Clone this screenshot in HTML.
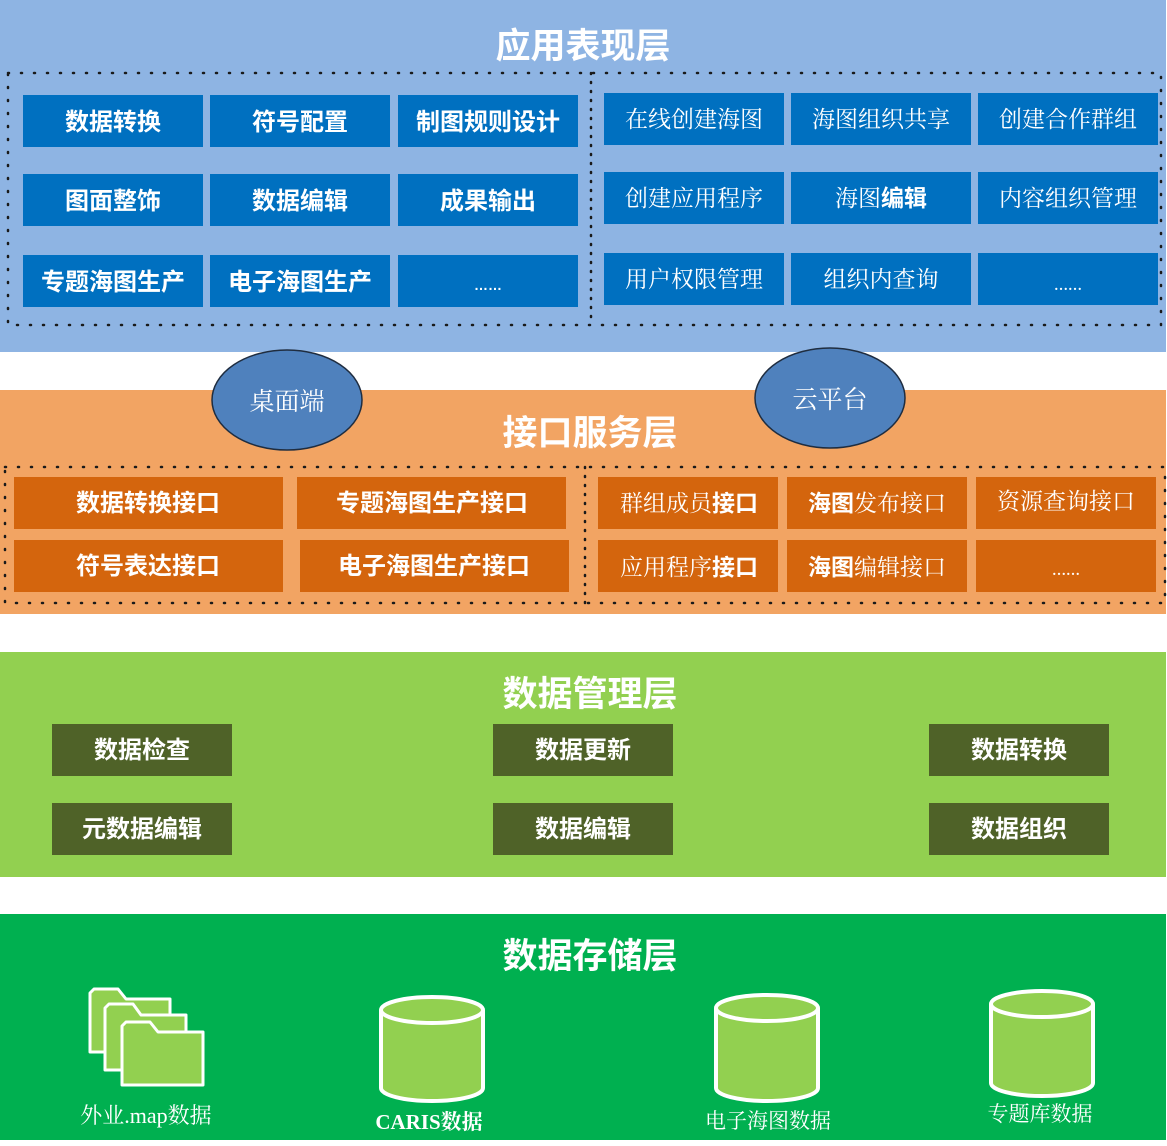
<!DOCTYPE html>
<html><head><meta charset="utf-8"><style>
html,body{margin:0;padding:0;background:#fff}
svg{display:block}
.b{font-family:"Liberation Sans","Noto Sans CJK SC",sans-serif;font-weight:bold;fill:#fff}
.s{font-family:"Liberation Serif","Noto Serif CJK SC",serif;fill:#fff}
</style></head><body>
<svg width="1167" height="1146" viewBox="0 0 1167 1146" xmlns="http://www.w3.org/2000/svg">
<rect x="0" y="0" width="1166" height="352" fill="#8EB4E3"/>
<text x="583" y="58" text-anchor="middle" class="b" font-size="35">应用表现层</text>
<rect x="8" y="73" width="1153" height="252" fill="none" stroke="#1a1a1a" stroke-width="2.5" stroke-dasharray="1 12" stroke-linecap="round"/>
<line x1="591" y1="73" x2="591" y2="325" stroke="#1a1a1a" stroke-width="2.5" stroke-dasharray="1 8" stroke-linecap="round"/>
<g fill="#0070C0">
<rect x="23" y="95" width="180" height="52"/><rect x="210" y="95" width="180" height="52"/><rect x="398" y="95" width="180" height="52"/>
<rect x="23" y="174" width="180" height="52"/><rect x="210" y="174" width="180" height="52"/><rect x="398" y="174" width="180" height="52"/>
<rect x="23" y="255" width="180" height="52"/><rect x="210" y="255" width="180" height="52"/><rect x="398" y="255" width="180" height="52"/>
<rect x="604" y="93" width="180" height="52"/><rect x="791" y="93" width="180" height="52"/><rect x="978" y="93" width="180" height="52"/>
<rect x="604" y="172" width="180" height="52"/><rect x="791" y="172" width="180" height="52"/><rect x="978" y="172" width="180" height="52"/>
<rect x="604" y="253" width="180" height="52"/><rect x="791" y="253" width="180" height="52"/><rect x="978" y="253" width="180" height="52"/>
</g>
<g class="b" font-size="24" text-anchor="middle">
<text x="113" y="130">数据转换</text><text x="300" y="130">符号配置</text><text x="488" y="130">制图规则设计</text>
<text x="113" y="209">图面整饰</text><text x="300" y="209">数据编辑</text><text x="488" y="209">成果输出</text>
<text x="113" y="290">专题海图生产</text><text x="300" y="290">电子海图生产</text><text x="488" y="290" font-size="14">……</text>
</g>
<g class="s" font-size="23" text-anchor="middle">
<text x="694" y="127">在线创建海图</text><text x="881" y="127">海图组织共享</text><text x="1068" y="127">创建合作群组</text>
<text x="694" y="206">创建应用程序</text><text x="881" y="206">海图<tspan class="b">编辑</tspan></text><text x="1068" y="206">内容组织管理</text>
<text x="694" y="287">用户权限管理</text><text x="881" y="287">组织内查询</text><text x="1068" y="290" font-size="14" font-weight="bold">……</text>
</g>
<rect x="0" y="390" width="1166" height="224" fill="#F2A463"/>
<text x="590" y="445" text-anchor="middle" class="b" font-size="35">接口服务层</text>
<rect x="5" y="467" width="1160" height="136" fill="none" stroke="#1a1a1a" stroke-width="2.5" stroke-dasharray="1 12" stroke-linecap="round"/>
<line x1="585" y1="467" x2="585" y2="603" stroke="#1a1a1a" stroke-width="2.5" stroke-dasharray="1 8" stroke-linecap="round"/>
<g fill="#D4650D">
<rect x="14" y="477" width="269" height="52"/><rect x="297" y="477" width="269" height="52"/>
<rect x="14" y="540" width="269" height="52"/><rect x="300" y="540" width="269" height="52"/>
<rect x="598" y="477" width="180" height="52"/><rect x="787" y="477" width="180" height="52"/><rect x="976" y="477" width="180" height="52"/>
<rect x="598" y="540" width="180" height="52"/><rect x="787" y="540" width="180" height="52"/><rect x="976" y="540" width="180" height="52"/>
</g>
<g class="b" font-size="24" text-anchor="middle">
<text x="148" y="511">数据转换接口</text><text x="432" y="511">专题海图生产接口</text>
<text x="148" y="574">符号表达接口</text><text x="434" y="574">电子海图生产接口</text>
</g>
<g class="s" font-size="23" text-anchor="middle">
<text x="689" y="511">群组成员<tspan class="b">接口</tspan></text><text x="877" y="511"><tspan class="b">海图</tspan>发布接口</text><text x="1066" y="509">资源查询接口</text>
<text x="689" y="575">应用程序<tspan class="b">接口</tspan></text><text x="877" y="575"><tspan class="b">海图</tspan>编辑接口</text><text x="1066" y="575" font-size="14" font-weight="bold">……</text>
</g>
<ellipse cx="287" cy="400" rx="75" ry="50" fill="#4F81BD" stroke="#1F2D40" stroke-width="1.5"/>
<text x="287" y="410" text-anchor="middle" class="s" font-size="25">桌面端</text>
<ellipse cx="830" cy="398" rx="75" ry="50" fill="#4F81BD" stroke="#1F2D40" stroke-width="1.5"/>
<text x="830" y="408" text-anchor="middle" class="s" font-size="25">云平台</text>
<rect x="0" y="652" width="1166" height="225" fill="#92D050"/>
<text x="590" y="706" text-anchor="middle" class="b" font-size="35">数据管理层</text>
<g fill="#4F6228">
<rect x="52" y="724" width="180" height="52"/><rect x="493" y="724" width="180" height="52"/><rect x="929" y="724" width="180" height="52"/>
<rect x="52" y="803" width="180" height="52"/><rect x="493" y="803" width="180" height="52"/><rect x="929" y="803" width="180" height="52"/>
</g>
<g class="b" font-size="24" text-anchor="middle">
<text x="142" y="758">数据检查</text><text x="583" y="758">数据更新</text><text x="1019" y="758">数据转换</text>
<text x="142" y="837">元数据编辑</text><text x="583" y="837">数据编辑</text><text x="1019" y="837">数据组织</text>
</g>
<rect x="0" y="914" width="1166" height="226" fill="#00B050"/>
<text x="590" y="968" text-anchor="middle" class="b" font-size="35">数据存储层</text>
<g fill="#92D050" stroke="#fff" stroke-width="3" stroke-linejoin="round">
<path d="M90 1052 L90 993 L94 989 L118 989 L126 999 L170 999 L170 1052 Z"/>
<path d="M105 1070 L105 1008 L109 1004 L133 1004 L141 1015 L186 1015 L186 1070 Z"/>
<path d="M122 1085 L122 1026 L126 1022 L150 1022 L158 1032 L203 1032 L203 1085 Z"/>
</g>
<g fill="#92D050" stroke="#fff" stroke-width="4">
<path d="M381 1010 L381 1088 A51 13 0 0 0 483 1088 L483 1010"/>
<ellipse cx="432" cy="1010" rx="51" ry="13"/>
<path d="M716 1008 L716 1088 A51 13 0 0 0 818 1088 L818 1008"/>
<ellipse cx="767" cy="1008" rx="51" ry="13"/>
<path d="M991 1004 L991 1083 A51 13 0 0 0 1093 1083 L1093 1004"/>
<ellipse cx="1042" cy="1004" rx="51" ry="13"/>
</g>
<g class="s" font-size="21" text-anchor="middle">
<text x="146" y="1123" font-size="22">外业.map数据</text>
<text x="429" y="1129" font-weight="bold">CARIS数据</text>
<text x="768" y="1128">电子海图数据</text>
<text x="1040" y="1121">专题库数据</text>
</g>
</svg>
</body></html>
